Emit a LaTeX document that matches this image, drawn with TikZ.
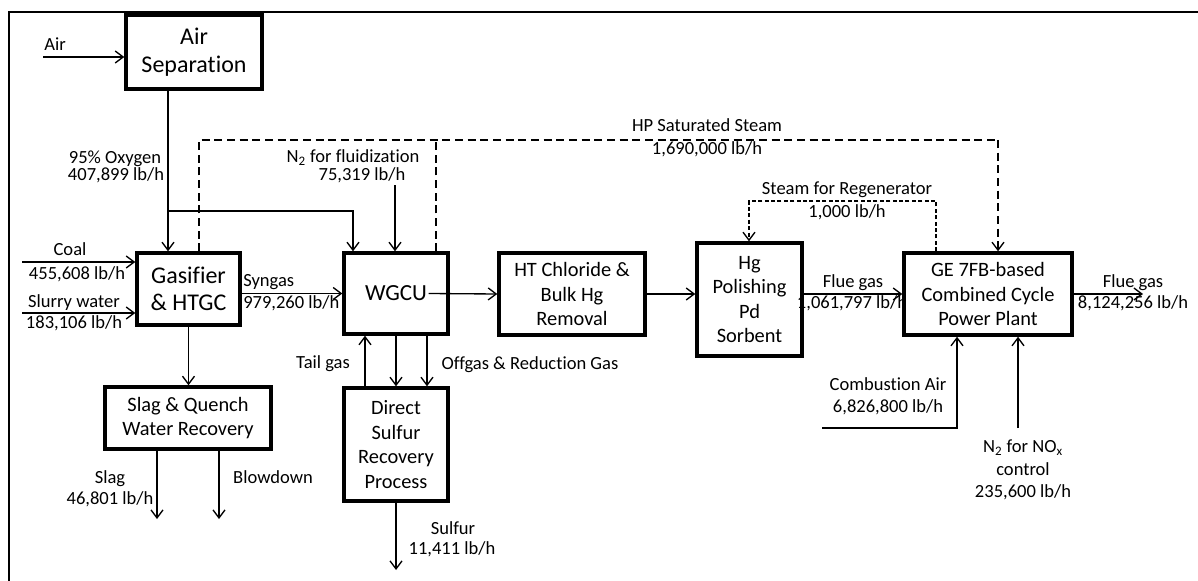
\documentclass[tikz,border=0pt]{standalone}
\usepackage{fontspec}
\setmainfont{Carlito}[Ligatures={NoCommon,NoContextual,NoRequired},Contextuals={NoAlternate}]
\usetikzlibrary{arrows.meta}
\newcommand\lblf{\fontsize{13.9}{16}\selectfont}
\newcommand\boxf{\fontsize{15.3}{18.3}\selectfont}
\newcommand\bigf{\fontsize{18}{20.7}\selectfont}
\newcommand\wgf{\fontsize{17.3}{20.7}\selectfont}
\begin{document}
\begin{tikzpicture}[x=0.75pt,y=-0.75pt,
 box/.style={draw, line width=2.6pt, inner sep=0pt, align=center, font=\boxf},
 bigbox/.style={box, font=\bigf},
 sz/.style 2 args={minimum width=#1*0.75pt, minimum height=#2*0.75pt},
 arr/.style={line width=1pt, -{Straight Barb[length=6pt,width=9pt]}},
 dsh/.style={line width=1pt, dash pattern=on 6pt off 3.5pt},
 dshb/.style={line width=1pt, dash pattern=on 3pt off 1.8pt},
 lbl/.style={font=\lblf, inner sep=0pt, anchor=base, yshift=-4.3pt},
 lblw/.style={lbl, anchor=base west},
]
\useasboundingbox (0,0) rectangle (1198,581);
% frame
\draw[line width=2pt] (9,590) -- (9,12) -- (1210,12);

% boxes
\node[bigbox, sz={136}{74}] (airsep) at (194,52) {Air\\Separation};
\node[bigbox, sz={103}{72}] (gas) at (188.5,289) {Gasifier\\\& HTGC};
\node[box, font=\wgf, sz={104}{81}] (wgcu) at (396,293.5) {WGCU};
\node[box, sz={146}{82}] (ht) at (572,294) {HT Chloride \&\\Bulk Hg\\Removal};
\node[box, sz={105}{113}] (hg) at (749.5,299.5) {Hg\\Polishing\\Pd\\Sorbent};
\node[box, sz={168}{82}] (ge) at (988,294) {GE 7FB-based\\Combined Cycle\\Power Plant};
\node[box, sz={166}{62}] (slag) at (188,418) {Slag \& Quench\\Water Recovery};
\node[box, sz={104}{113}] (dsrp) at (396,444.5) {Direct\\Sulfur\\Recovery\\Process};

% coordinates
\coordinate (airin) at (43,57);
\coordinate (ox) at (168,211);
\coordinate (wgin) at (353,211);
\coordinate (n2f) at (395,185);
\coordinate (stA) at (199,140);
\coordinate (stB) at (436,140);
\coordinate (stC) at (998,140);
\coordinate (rgA) at (936,201);
\coordinate (rgB) at (749,201);
\coordinate (coalin) at (22,262);
\coordinate (slurin) at (22,313);
\coordinate (fout) at (1143,294);
\coordinate (ca) at (822,428);
\coordinate (cab) at (957,428);
\coordinate (nx) at (1018,428);
\coordinate (slo) at (157,519);
\coordinate (bdo) at (219,519);
\coordinate (tg) at (365,360);
\coordinate (og) at (427,360);
\coordinate (su) at (396,570);

% solid connectors
\draw[arr] (airin) -- (airin -| airsep.west);
\draw[arr] (ox |- airsep.south) -- (ox |- gas.north);
\draw[arr] (ox) -- (wgin) -- (wgin |- wgcu.north);
\draw[arr] (n2f) -- (n2f |- wgcu.north);
\draw[arr] (coalin) -- (coalin -| gas.west);
\draw[arr] (slurin) -- (slurin -| gas.west);
\draw[arr] (gas.east |- wgcu.west) -- (wgcu.west);
\draw[arr] ([xshift=-15.75pt]wgcu.east) -- (ht.west);
\draw[arr] (ht.east) -- (ht.east -| hg.west);
\draw[arr] (hg.east |- ge.west) -- (ge.west);
\draw[arr] (ge.east) -- (ge.east -| fout);
\draw[arr] (ca) -- (cab) -- (cab |- ge.south);
\draw[arr] (nx) -- (nx |- ge.south);
\draw[arr] (gas.south) -- (gas.south |- slag.north);
\draw[arr] (slo |- slag.south) -- (slo);
\draw[arr] (bdo |- slag.south) -- (bdo);
\draw[arr] (tg |- dsrp.north) -- (tg |- wgcu.south);
\draw[arr] (wgcu.south) -- (dsrp.north);
\draw[arr] (og |- wgcu.south) -- (og |- dsrp.north);
\draw[arr] (dsrp.south) -- (dsrp.south |- su);

% dashed steam
\draw[dsh] (stA |- gas.north) -- (stA) -- (stC);
\draw[dsh] (stB |- wgcu.north) -- (stB);
\draw[dsh, arr] (stC) -- (stC |- ge.north);
\draw[dshb, arr] (rgA |- ge.north) -- (rgA) -- (rgB) -- (rgB |- hg.north);

% labels
\node[lbl] (lair) at (55,45) {Air};
\node[lbl] (lox1) at (115,158) {95\% Oxygen};
\node[lbl] (lox2) at (116,175) {407,899 lb/h};
\node[lbl] (ln2a) at (353,157) {N\textsubscript{2} for fluidization};
\node[lbl] (ln2b) at (362,175) {75,319 lb/h};
\node[lbl] (lhp1) at (707,126) {HP Saturated Steam};
\node[lbl] (lhp2) at (707,149) {1,690,000 lb/h};
\node[lbl] (lrg1) at (847,189) {Steam for Regenerator};
\node[lbl] (lrg2) at (847,212) {1,000 lb/h};
\node[lbl] (lco1) at (70,250) {Coal};
\node[lbl] (lco2) at (77,274) {455,608 lb/h};
\node[lbl] (lsw1) at (74,302) {Slurry water};
\node[lbl] (lsw2) at (74,323) {183,106 lb/h};
\node[lblw] (lsy1) at (243,281) {Syngas};
\node[lblw] (lsy2) at (243,303) {979,260 lb/h};
\node[lbl] (lfg1) at (853,282) {Flue gas};
\node[lbl] (lfg2) at (852,303) {1,061,797 lb/h};
\node[lbl] (lfo1) at (1133,282) {Flue gas};
\node[lbl] (lfo2) at (1133,303) {8,124,256 lb/h};
\node[lbl] (ltg) at (323,363) {Tail gas};
\node[lbl] (log) at (530,364) {Offgas \& Reduction Gas};
\node[lbl] (lca1) at (888,385) {Combustion Air};
\node[lbl] (lca2) at (888,407) {6,826,800 lb/h};
\node[lbl] (lnx1) at (1023,447) {N\textsubscript{2} for NO\textsubscript{x}};
\node[lbl] (lnx2) at (1023,470) {control};
\node[lbl] (lnx3) at (1023,492) {235,600 lb/h};
\node[lbl] (lsl1) at (110,478) {Slag};
\node[lbl] (lsl2) at (110,499) {46,801 lb/h};
\node[lbl] (lbd) at (273,478) {Blowdown};
\node[lbl] (lsu1) at (453,529) {Sulfur};
\node[lbl] (lsu2) at (452,549) {11,411 lb/h};
\end{tikzpicture}
\end{document}
